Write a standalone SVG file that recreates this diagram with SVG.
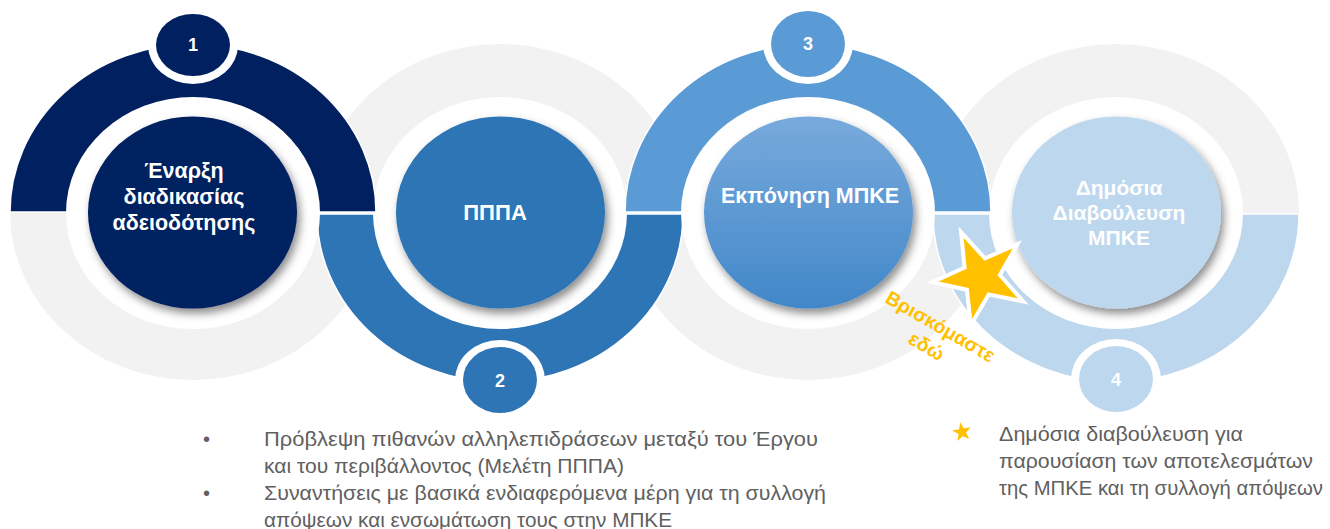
<svg xmlns="http://www.w3.org/2000/svg" width="1330" height="529" viewBox="0 0 1330 529">
<style>
.ring{fill:#F2F2F2}
.wh{fill:#FFFFFF}
.lbl{font-family:"Liberation Sans",Arial,sans-serif;font-weight:bold;fill:#FFFFFF;text-anchor:middle}
.num{font-family:"Liberation Sans",Arial,sans-serif;font-weight:bold;fill:#FFFFFF;text-anchor:middle;font-size:18px}
.body{font-family:"Liberation Sans",Arial,sans-serif;fill:#606060;font-size:20px}
.here{font-family:"Liberation Sans",Arial,sans-serif;font-weight:bold;fill:#FFC000;font-size:19.5px;text-anchor:middle}
.arc{stroke:#FFFFFF;stroke-width:1.5}
</style>
<defs>
<filter id="sh" x="-20%" y="-20%" width="140%" height="150%">
<feDropShadow dx="3" dy="5" stdDeviation="4" flood-color="#000000" flood-opacity="0.45"/>
</filter>
<linearGradient id="g3" x1="0" y1="0" x2="0" y2="1">
<stop offset="0" stop-color="#78AADC"/>
<stop offset="1" stop-color="#4287C9"/>
</linearGradient>
</defs>

<g id="rings">
<ellipse class="ring" cx="193" cy="212" rx="183" ry="168"/>
<ellipse class="ring" cx="500" cy="212" rx="183" ry="168"/>
<ellipse class="ring" cx="808" cy="212" rx="183" ry="168"/>
<ellipse class="ring" cx="1116" cy="212" rx="183" ry="168"/>
</g>

<g id="node2">
<path class="arc" fill="#2E75B6" d="M317,214 A183,168 0 0 0 683,214 Z"/>
<ellipse class="wh" cx="500" cy="213" rx="127" ry="116"/>
<ellipse fill="#2E75B6" cx="500.5" cy="212.5" rx="104.5" ry="96" filter="url(#sh)"/>
<text class="lbl" x="495" y="219.5" font-size="22">ΠΠΠΑ</text>
<ellipse class="wh" cx="500" cy="380" rx="45" ry="40"/>
<ellipse fill="#2E75B6" cx="500" cy="380" rx="37" ry="33"/>
<text class="num" x="500" y="387">2</text>
</g>

<g id="node4">
<path class="arc" fill="#BDD7EE" d="M933,214 A183,168 0 0 0 1299,214 Z"/>
<ellipse class="wh" cx="1116" cy="213" rx="127" ry="116"/>
<ellipse fill="#BDD7EE" cx="1116.5" cy="212.5" rx="104.5" ry="96" filter="url(#sh)"/>
<text class="lbl" font-size="21"><tspan x="1119" y="194.5">Δημόσια</tspan><tspan x="1119" y="220">Διαβούλευση</tspan><tspan x="1119" y="245">ΜΠΚΕ</tspan></text>
<ellipse class="wh" cx="1116" cy="379" rx="45" ry="40"/>
<ellipse fill="#BDD7EE" cx="1116" cy="379" rx="37" ry="33"/>
<text class="num" x="1116" y="386">4</text>
</g>

<g id="node1">
<path class="arc" fill="#002060" d="M10,212 A183,168 0 0 1 376,212 Z"/>
<ellipse class="wh" cx="193" cy="213" rx="127" ry="116"/>
<ellipse fill="#002060" cx="192.5" cy="212.5" rx="104.5" ry="96" filter="url(#sh)"/>
<text class="lbl" font-size="21.5"><tspan x="184" y="177.5">Έναρξη</tspan><tspan x="184" y="203.5">διαδικασίας</tspan><tspan x="184" y="229.5">αδειοδότησης</tspan></text>
<ellipse class="wh" cx="193" cy="45" rx="45" ry="39"/>
<ellipse fill="#002060" cx="193" cy="45" rx="37" ry="31"/>
<text class="num" x="193" y="51">1</text>
</g>

<g id="node3">
<path class="arc" fill="#5B9BD5" d="M625,212 A183,168 0 0 1 991,212 Z"/>
<ellipse class="wh" cx="808" cy="213" rx="127" ry="116"/>
<ellipse fill="url(#g3)" cx="808.5" cy="212.5" rx="104.5" ry="96" filter="url(#sh)"/>
<text class="lbl" x="810" y="202.5" font-size="21.5">Εκπόνηση ΜΠΚΕ</text>
<ellipse class="wh" cx="808" cy="44" rx="45" ry="40"/>
<ellipse fill="#5B9BD5" cx="808" cy="44" rx="37" ry="33"/>
<text class="num" x="808" y="50">3</text>
</g>

<g id="marker-here">
<polygon fill="#FFC000" stroke="#FFFFFF" stroke-width="4" points="961.1,232.2 985,258.4 1017.4,244.2 999.9,275 1023.4,301.5 988.7,294.4 970.8,324.9 966.9,289.7 932.3,282.1 964.6,267.5"/>
<g transform="translate(940,327) rotate(30)">
<text class="here" x="0" y="6">Βρισκόμαστε</text>
<text class="here" x="-2" y="30">εδώ</text>
</g>
</g>

<g id="notes-left">
<text class="body" x="203" y="446">•</text>
<text class="body" x="264" y="446" textLength="554" lengthAdjust="spacingAndGlyphs">Πρόβλεψη πιθανών αλληλεπιδράσεων μεταξύ του Έργου</text>
<text class="body" x="264" y="473" textLength="360" lengthAdjust="spacingAndGlyphs">και του περιβάλλοντος (Μελέτη ΠΠΠΑ)</text>
<text class="body" x="203" y="500">•</text>
<text class="body" x="264" y="500" textLength="562" lengthAdjust="spacingAndGlyphs">Συναντήσεις με βασικά ενδιαφερόμενα μέρη για τη συλλογή</text>
<text class="body" x="264" y="527" textLength="408" lengthAdjust="spacingAndGlyphs">απόψεων και ενσωμάτωση τους στην ΜΠΚΕ</text>
</g>

<g id="notes-right">
<polygon fill="#FFC000" points="960.3,422.2 963.8,428.4 970.8,427.3 966,432.6 969.2,439 962.7,435.9 957.6,441 958.5,433.9 952.1,430.6 959.1,429.2"/>
<text class="body" x="999" y="441" textLength="244" lengthAdjust="spacingAndGlyphs">Δημόσια διαβούλευση για</text>
<text class="body" x="999" y="468" textLength="314" lengthAdjust="spacingAndGlyphs">παρουσίαση των αποτελεσμάτων</text>
<text class="body" x="999" y="495" textLength="324" lengthAdjust="spacingAndGlyphs">της ΜΠΚΕ και τη συλλογή απόψεων</text>
</g>
</svg>
